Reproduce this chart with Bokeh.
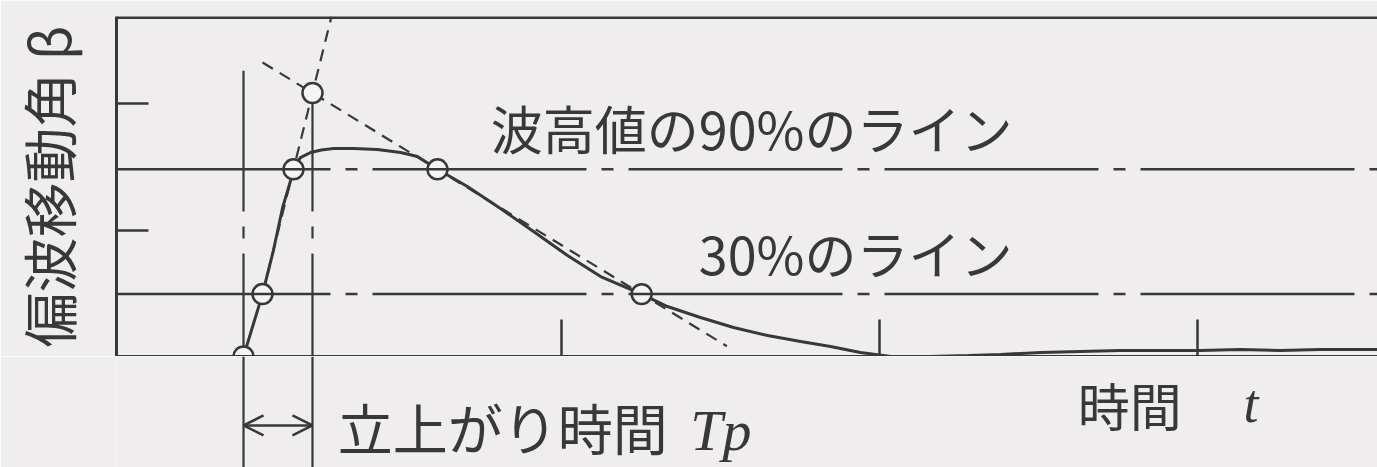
from bokeh.plotting import figure
from bokeh.layouts import column
from bokeh.models import Span, Label, Arrow, OpenHead, Range1d, FixedTicker
from bokeh.embed import file_html
from bokeh.resources import INLINE

# Polarization-shift angle response after a step (time and angle in tick units)
time = [0.000, 0.0597, 0.094, 0.123, 0.148, 0.1572, 0.179, 0.211, 0.245, 0.283,
        0.346, 0.421, 0.494, 0.547, 0.610, 0.704, 0.808, 0.912, 1.019, 1.123,
        1.252, 1.333, 1.437, 1.541, 1.648, 1.752, 1.846, 1.940, 2.035, 2.160,
        2.280, 2.381, 2.507, 2.632, 2.758, 2.884, 3.009, 3.135, 3.261, 3.386,
        3.566]
beta = [0.000, 0.493, 0.838, 1.178, 1.391, 1.480, 1.573, 1.613, 1.633, 1.644,
        1.644, 1.636, 1.613, 1.581, 1.480, 1.344, 1.170, 0.988, 0.798, 0.632,
        0.493, 0.395, 0.308, 0.229, 0.166, 0.119, 0.079, 0.032, 0.000, 0.000,
        0.008, 0.016, 0.032, 0.040, 0.047, 0.047, 0.047, 0.055, 0.047, 0.055,
        0.055]

peak = 1.644
levels = [0.9, 0.3]
level_names = ["波高値の90%のライン", "30%のライン"]

rise_t = [0.0597, 0.1572]   # crossings of the 30 % and 90 % lines while rising
fall_t = [0.610, 1.252]     # crossings of the 90 % and 30 % lines while falling

x_ticks = [1, 2, 3]
y_ticks = [1, 2]

INK = "#383838"
PAPER = "#f0edee"
JP = "Noto Sans CJK JP"
SERIF = "Liberation Serif"
CHAIN = "214 15 12 15"

# straight lines through the level crossings
rise_y = [levels[1] * peak, levels[0] * peak]
fall_y = [levels[0] * peak, levels[1] * peak]
rs = (rise_y[1] - rise_y[0]) / (rise_t[1] - rise_t[0])
fs = (fall_y[1] - fall_y[0]) / (fall_t[1] - fall_t[0])
# their intersection marks the end of the rise time Tp
tp = (fall_y[0] - rise_y[0] + rs * rise_t[0] - fs * fall_t[0]) / (rs - fs)
tp_y = rise_y[0] + rs * (tp - rise_t[0])

W, LEFT = 1377, 116
y_top = 2.688
y_low = -0.877
x_range = Range1d(-0.3994, 3.566)

# ---- main chart -------------------------------------------------------------
p = figure(width=W, height=356, output_backend="svg", toolbar_location=None,
           x_range=x_range, y_range=Range1d(0, y_top),
           min_border_left=LEFT, min_border_right=0, min_border_top=16,
           min_border_bottom=0, background_fill_color=PAPER,
           border_fill_color=PAPER, outline_line_color=None)
p.grid.visible = False

for ax, ticks, tick_len in ((p.xaxis[0], x_ticks, 37), (p.yaxis[0], y_ticks, 32)):
    ax.ticker = FixedTicker(ticks=ticks)
    ax.major_tick_in = tick_len
    ax.major_tick_out = 0
    ax.minor_tick_line_color = None
    ax.major_label_text_font_size = "0px"
    ax.major_label_text_color = None
    ax.major_label_standoff = 0
    ax.axis_line_width = 3
    ax.axis_line_color = INK
    ax.major_tick_line_width = 2.5
    ax.major_tick_line_color = INK

p.yaxis.axis_label = "偏波移動角 β"
p.yaxis.axis_label_text_font = JP
p.yaxis.axis_label_text_font_style = "normal"
p.yaxis.axis_label_text_font_size = "55px"
p.yaxis.axis_label_text_color = INK
p.yaxis.axis_label_standoff = 30

# top edge of the box
p.add_layout(Span(location=y_top - 0.008, dimension="width", line_color=INK, line_width=3))

# 90 % and 30 % lines
for lv in levels:
    p.add_layout(Span(location=lv * peak, dimension="width", line_color=INK,
                      line_width=2.5, line_dash=CHAIN))

# start and Tp markers (continued below the axis in the lower strip)
marks = [(0.0, 2.26), (tp, tp_y - 0.08)]
for t0, y0 in marks:
    p.line([t0, t0], [0, y0], line_color=INK, line_width=2.2,
           line_dash="103 15 12 15 600 10")

# construction lines
p.line([rise_t[0], rise_t[0] + (y_top - rise_y[0]) / rs], [rise_y[0], y_top],
       line_color=INK, line_width=2.2, line_dash="12 8")
fx = [0.06, 1.52]
p.line(fx, [fall_y[0] + fs * (x - fall_t[0]) for x in fx],
       line_color=INK, line_width=2.2, line_dash="12 8")

# response curve
p.line(time, beta, line_color=INK, line_width=3)

# marked points
cx = [0.0, rise_t[0], rise_t[1], tp, fall_t[0], fall_t[1]]
cy = [0.0, rise_y[0], rise_y[1], tp_y, fall_y[0], fall_y[1]]
p.scatter(cx, cy, size=20, fill_color="#f6f4f5", line_color=INK, line_width=2.5)


def note(fig, x, y, text, size, font=JP, style="normal", align="left"):
    fig.add_layout(Label(x=x, y=y, text=text, text_font=font, text_font_style=style,
                         text_font_size=size, text_color=INK, text_align=align,
                         text_baseline="middle"))


note(p, 2.418, 1.810, level_names[0], "52px", align="right")
note(p, 2.418, 0.822, level_names[1], "52px", align="right")

# ---- strip under the time axis (shares the time scale) ----------------------
q = figure(width=W, height=111, output_backend="svg", toolbar_location=None,
           x_range=x_range, y_range=Range1d(y_low, 0),
           min_border_left=LEFT, min_border_right=0, min_border_top=0,
           min_border_bottom=0, background_fill_color=PAPER,
           border_fill_color=PAPER, outline_line_color=None,
           x_axis_location=None, y_axis_location=None)
q.grid.visible = False

for t0, _ in marks:
    q.line([t0, t0], [0, y_low], line_color=INK, line_width=2.2)

q.add_layout(Arrow(x_start=0.0, y_start=-0.545, x_end=tp, y_end=-0.545,
                   line_color=INK, line_width=2.5,
                   start=OpenHead(size=20, line_color=INK, line_width=2.5),
                   end=OpenHead(size=20, line_color=INK, line_width=2.5)))

note(q, 2.623, -0.379, "時間", "52px")
note(q, 3.145, -0.379, "t", "54px", font=SERIF, style="italic")
note(q, 0.296, -0.553, "立上がり時間", "55px")
note(q, 1.405, -0.585, "Tp", "58px", font=SERIF, style="italic")

open("out.html", "w").write(file_html(column(p, q, spacing=0), INLINE))
